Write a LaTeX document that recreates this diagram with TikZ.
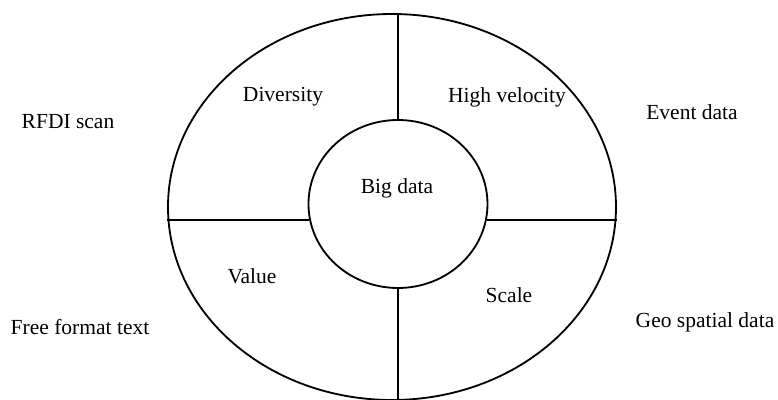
\documentclass[tikz,border=0pt]{standalone}
\usepackage{fontspec}
\setmainfont{Liberation Serif}
\usetikzlibrary{shapes.geometric}

\begin{document}
\begin{tikzpicture}[ring/.style={draw,ellipse,line width=1.3pt,inner sep=0pt}, sep/.style={draw,line width=1.3pt}, lbl/.style={font=\fontsize{15.3}{18}\selectfont}]
    \useasboundingbox (-9.8,-4.825) rectangle (9.65,5.175);

    \node[ring,minimum width=11.2cm,minimum height=9.65cm] (rim) at (0,0) {};
    \node[ring,minimum width=4.475cm,minimum height=4.2cm] (hub) at (0.15,0.075) {};

    \draw[sep] (hub.north) -- (hub.north |- rim.north);
    \draw[sep] (hub.south) -- (hub.south |- rim.south);
    \draw[sep] (hub.190) -- (hub.190 -| rim.west);
    \draw[sep] (hub.350) -- (hub.350 -| rim.east);

    \node[lbl] (bigdata) at (0.125,0.475) {Big data};
    \node[lbl] (diversity) at (-2.725,2.75) {Diversity};
    \node[lbl] (velocity) at (2.875,2.75) {High velocity};
    \node[lbl] (value) at (-3.5,-1.725) {Value};
    \node[lbl] (scale) at (2.925,-2.2) {Scale};

    \node[lbl] (rfdi) at (-8.1,2.125) {RFDI scan};
    \node[lbl] (freetext) at (-7.8,-3.0) {Free format text};
    \node[lbl] (event) at (7.5,2.375) {Event data};
    \node[lbl] (geo) at (7.825,-2.875) {Geo spatial data};
  \end{tikzpicture}
\end{document}
